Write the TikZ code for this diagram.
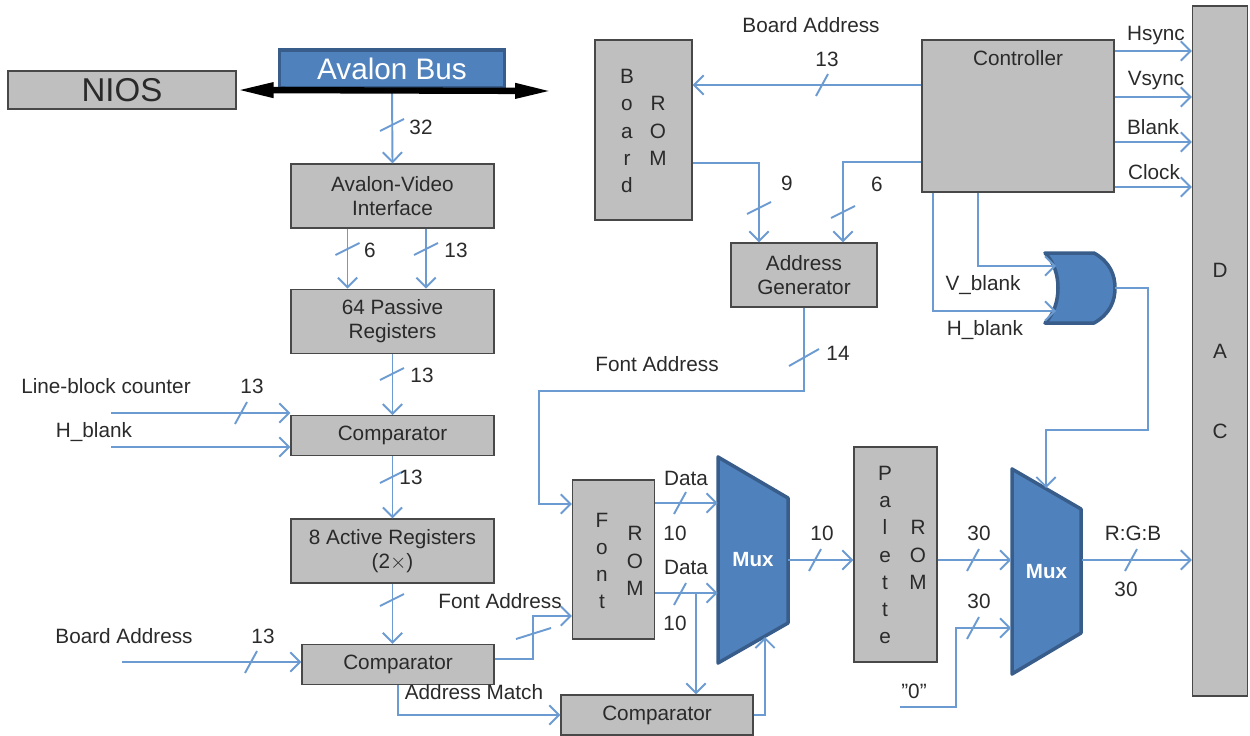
\documentclass[tikz,border=0pt]{standalone}
\usepackage{fontspec}
\setmainfont{Liberation Sans}
\usepackage{tikz}
\usetikzlibrary{arrows.meta, positioning}
\definecolor{boxfill}{HTML}{BFBFBF}
\definecolor{boxline}{HTML}{484848}
\definecolor{muxblue}{HTML}{4F81BD}
\definecolor{muxline}{HTML}{385D8A}
\definecolor{wireblue}{HTML}{6C9BD2}
\definecolor{inktext}{HTML}{2A2A2A}

\begin{document}
\begin{tikzpicture}[
        x=0.02cm, y=-0.02cm,
        node distance=1.2cm,
        every node/.style={text=inktext, font=\fontsize{11.8}{13.7}\selectfont},
        block/.style={rectangle, draw=boxline, fill=boxfill, line width=0.8pt, inner sep=0pt, align=center},
        wideblock/.style={block, minimum width=4.06cm, minimum height=1.28cm},
        thinblock/.style={block, minimum width=4.06cm, minimum height=0.8cm},
        romletters/.style={inner sep=0pt, align=center, font=\fontsize{11.8}{15.5}\selectfont},
        tag/.style={inner sep=0pt, align=center},
        muxbody/.style={draw=muxline, fill=muxblue, line width=2pt, line join=round},
        muxframe/.style={inner sep=0pt, minimum width=1.4cm, minimum height=4.1cm, text=white, font=\fontsize{11.7}{14}\selectfont\bfseries},
        wire/.style={draw=wireblue, line width=1.1pt},
        arrow/.style={wire, -{Straight Barb[length=5.5pt, width=11pt]}},
        bus/.style={{Triangle[length=21pt, width=8pt]}-{Triangle[length=21pt, width=8pt]}, line width=3.6pt, color=black}
    ]
        \useasboundingbox (0,0) rectangle (1250,735);

        % left column
        \node[wideblock] (video) at (392.5,196) {Avalon-Video\\Interface};
        \node[wideblock, below=of video] (passive) {64 Passive\\Registers};
        \node[thinblock, below=1.22cm of passive] (cmpline) {Comparator};
        \node[wideblock, below=1.24cm of cmpline] (active) {8 Active Registers\\(2$\times$)};
        \node[thinblock, minimum width=3.84cm, below left=1.2cm and 0cm of active.south east] (cmpboard) {Comparator};
        \node[thinblock, minimum width=3.84cm] (cmpdata) at (657,715) {Comparator};

        % bus
        \node[block, minimum width=4.56cm, minimum height=0.76cm] (nios) at (122,90) {};
        \node[font=\fontsize{18.8}{22}\selectfont] at (nios) {NIOS};
        \node[rectangle, draw=muxline, fill=muxblue, line width=2pt, inner sep=0pt, minimum width=4.5cm, minimum height=0.76cm, text=white, font=\fontsize{16.9}{20}\selectfont] (avalon) at (392,69) {Avalon Bus};
        \coordinate (busend) at (552,91);

        % right side
        \node[block, minimum width=1.94cm, minimum height=3.6cm] (boardrom) at (643.5,130) {};
        \node[romletters] (boardname) at (627,131) {B\\o\\a\\r\\d};
        \node[romletters] at (658,131) {R\\O\\M};
        \node[block, minimum width=3.84cm, minimum height=3.04cm] (ctrl) at (1018,116) {};
        \node[tag] at (1018,58) {Controller};
        \node[wideblock, minimum width=2.92cm] (addrgen) at (804,275) {Address\\Generator};
        \node[block, minimum width=1.64cm, minimum height=3.18cm] (fontrom) at (613.5,559.5) {};
        \node[romletters] at (602,561) {F\\o\\n\\t};
        \node[romletters] at (635,561) {R\\O\\M};
        \node[block, minimum width=1.66cm, minimum height=4.3cm] (palette) at (895.5,554.5) {};
        \node[romletters] at (885,555) {P\\a\\l\\e\\t\\t\\e};
        \node[romletters] at (918,555) {R\\O\\M};
        \node[block, minimum width=1.1cm, minimum height=13.8cm, font=\fontsize{11.8}{46}\selectfont] (dac) at (1220,351) {D\\A\\C};

        % blue shapes
        \draw[muxbody] (718,457) -- (788,498) -- (788,623) -- (718,663) -- cycle;
        \node[muxframe] (muxa) at (753,560) {Mux};
        \draw[muxbody] (1012,469) -- (1081,509) -- (1081,633) -- (1012,674) -- cycle;
        \node[muxframe] (muxb) at (1046.5,571.5) {Mux};
        \draw[muxbody] (1045,253) -- (1094,253) .. controls (1110,262) and (1115,275) .. (1115,288) .. controls (1115,301) and (1110,314) .. (1094,323) -- (1045,323) .. controls (1054,314) and (1058,301) .. (1058,288) .. controls (1058,275) and (1054,262) .. (1045,253) -- cycle;
        \node[inner sep=0pt, minimum size=1.4cm] (orgate) at (1080,288) {};
        \coordinate (vin) at (1056,266);
        \coordinate (hin) at (1056,311);
        \coordinate (orturn) at (1148,430);
        \coordinate (mixsel) at (1046,488);
        \coordinate (zero) at (900,707);
        \coordinate (lineleft) at (111,413);
        \coordinate (hleft) at (111,447);
        \coordinate (boardleft) at (122,662);

        % connectors
        \draw[arrow] (avalon.south) -- (video.north);
        \draw[bus] (nios.east) -- (busend);
        \draw[arrow] (video.south -| 347.5,0) -- (passive.north -| 347.5,0);
        \draw[arrow] (video.south -| 426,0) -- (passive.north -| 426,0);
        \draw[arrow] (passive) -- (cmpline);
        \draw[arrow] (cmpline) -- (active);
        \draw[arrow] (active) -- (active.south |- cmpboard.north);
        \draw[arrow] (lineleft) -- (cmpline.west |- lineleft);
        \draw[arrow] (hleft) -- (cmpline.west |- hleft);
        \draw[arrow] (boardleft) -- (cmpboard.west |- boardleft);
        \draw[arrow] (cmpboard.east |- 0,659) -| (533,616) -- (fontrom.west |- 0,616);
        \draw[arrow] (cmpboard.south -| 398,0) |- (cmpdata.west);
        \draw[arrow] (addrgen.south) |- (539,391) |- (fontrom.west |- 0,504);
        \draw[arrow] (fontrom.east |- 0,503) -- (muxa.west |- 0,503);
        \draw[arrow] (fontrom.east |- 0,593) -- (muxa.west |- 0,593);
        \draw[arrow] (696,593) -- (cmpdata.north -| 696,0);
        \draw[arrow] (cmpdata.east) -| (765,637);
        \draw[arrow] (muxa.east |- 0,560) -- (palette.west |- 0,560);
        \draw[arrow] (palette.east |- 0,560) -- (muxb.west |- 0,560);
        \draw[arrow] (zero) -| (956,628) -- (muxb.west |- 0,628);
        \draw[arrow] (muxb.east |- 0,560) -- (dac.west |- 0,560);
        \draw[arrow] (ctrl.west |- 0,85) -- (boardrom.east |- 0,85);
        \draw[arrow] (boardrom.east |- 0,163) -| (addrgen.north -| 759,0);
        \draw[arrow] (ctrl.west |- 0,162) -| (addrgen.north -| 843,0);
        \foreach \y in {51,97,142,187} {
            \draw[arrow] (ctrl.east |- 0,\y) -- (dac.west |- 0,\y);
        }
        \draw[arrow] (ctrl.south -| 978,0) |- (vin);
        \draw[arrow] (ctrl.south -| 933,0) |- (hin);
        \draw[arrow] (orgate.east) -| (orturn) -| (mixsel);

        % width marks
        \foreach \x/\y in {392/125, 347.5/249, 426/249, 392/374, 392/477, 392/600, 759/208, 843/212} {
            \draw[wire] (\x-12,\y+6) -- (\x+12,\y-6);
        }
        \draw[wire] (516,639) -- (551,628);
        \draw[wire] (789,366) -- (819,349);
        \foreach \x/\y in {241/413, 251/662, 680/503, 680/594, 815/560, 973/560, 973/628, 1131/560, 822/85} {
            \draw[wire] (\x-6,\y+11) -- (\x+6,\y-11);
        }

        % labels
        \foreach \x/\y/\t in {421/127/32, 370/250/6, 456/250/13, 422/375/13, 411/477/13, 252/386/13, 263/636/13, 675/533/10, 675/623/10, 822/533/10, 979/533/30, 979/601/30, 1126/589/30, 827/59/13, 787/183/9, 877/184/6, 838/353/14} {
            \node[tag] at (\x,\y) {\t};
        }
        \node[tag] at (106,386) {Line-block counter};
        \node[tag] at (94,432) {H\_blank};
        \node[tag] at (124,636) {Board Address};
        \node[tag] at (500,601) {Font Address};
        \node[tag] at (474,692) {Address Match};
        \node[tag] at (686,478) {Data};
        \node[tag] at (686,567) {Data};
        \node[tag] at (811,25) {Board Address};
        \node[tag] at (657,364) {Font Address};
        \node[tag] at (914,691) {"0"};
        \node[tag] at (1133,533) {R:G:B};
        \node[tag] at (1156,36) {Hsync};
        \node[tag] at (1156,81) {Vsync};
        \node[tag] at (1153,127) {Blank};
        \node[tag] at (1154,172) {Clock};
        \node[tag] at (983,285) {V\_blank};
        \node[tag] at (985,330) {H\_blank};
    \end{tikzpicture}
\end{document}
